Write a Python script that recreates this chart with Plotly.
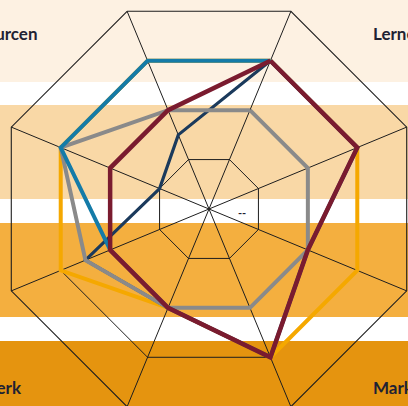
import plotly.graph_objects as go

# ---- data ----
categories = ["Lernen 1", "Lernen 2", "Markt 1", "Markt 2",
              "Netzwerk 1", "Netzwerk 2", "Ressourcen 1", "Ressourcen 2"]
series_yellow = [3, 3, 3, 3, 2, 3, 3, 3]
series_navy = [3, 3, 2, 3, 2, 2.5, 1, 1.5]
series_gray = [2, 2, 2, 2, 2, 2.5, 3, 2]
series_blue = [3, 3, 2, 3, 2, 2, 3, 3]
series_maroon = [3, 3, 2, 3, 2, 2, 2, 2]
ring_ticks = [1, 2, 3, 4]
quadrant_labels = ["Ressourcen", "Lernen", "Netzwerk", "Markt"]

# figure is a little larger than the window and shifted so the chart can bleed off the edges
OFF = 6
W, H = 430, 430


def px(x):
    return (x + OFF) / W


def py(y):
    return 1 - (y + OFF) / H


fig = go.Figure()


def add_series(vals, color, width):
    fig.add_trace(go.Scatterpolar(
        r=vals + [vals[0]], theta=categories + [categories[0]],
        mode="lines", line=dict(color=color, width=width),
        showlegend=False))


add_series(series_yellow, "#f5a800", 4)
add_series(series_navy, "#1b3a5c", 3.2)
add_series(series_gray, "#8a8a8a", 4)
add_series(series_blue, "#147ba8", 4)
add_series(series_maroon, "#7a1b2f", 4.5)

# background bands (page pixel rows)
bands = [(0, 82, "#fdf1e2"), (105, 199, "#f9d8a6"),
         (223, 317, "#f4af3f"), (341, 420, "#e5940f")]
shapes = []
for y0, y1, col in bands:
    shapes.append(dict(type="rect", xref="paper", yref="paper",
                       x0=0, x1=1, y0=py(y1), y1=py(y0),
                       fillcolor=col, line=dict(width=0), layer="below"))

lab_font = dict(family="Lato", size=17, color="#1f2233", weight=700)
annotations = [
    dict(text=quadrant_labels[0], x=px(40), y=py(34), xanchor="right", yanchor="middle"),
    dict(text=quadrant_labels[1], x=px(371), y=py(34), xanchor="left", yanchor="middle"),
    dict(text=quadrant_labels[2], x=px(24), y=py(387), xanchor="right", yanchor="middle"),
    dict(text=quadrant_labels[3], x=px(371), y=py(387), xanchor="left", yanchor="middle"),
]
for a in annotations:
    a.update(xref="paper", yref="paper", showarrow=False, font=lab_font)
annotations.append(dict(text="--", x=px(242), y=py(212), xref="paper", yref="paper",
                        showarrow=False,
                        font=dict(family="Lato", size=11, color="#1f2233", weight=700)))

cx, cy, R = 209 + OFF, 209 + OFF, 214
grid_col = "#1e1e1e"
fig.update_layout(
    width=W, height=H, margin=dict(l=0, r=0, t=0, b=0),
    paper_bgcolor="white", plot_bgcolor="rgba(0,0,0,0)",
    shapes=shapes, annotations=annotations, showlegend=False,
    polar=dict(
        domain=dict(x=[(cx - R) / W, (cx + R) / W],
                    y=[(H - cy - R) / H, (H - cy + R) / H]),
        bgcolor="rgba(0,0,0,0)", gridshape="linear",
        radialaxis=dict(range=[0, ring_ticks[-1]], tickvals=ring_ticks,
                        showgrid=True, gridcolor=grid_col, gridwidth=1.1,
                        showline=False, showticklabels=False, ticks="",
                        layer="below traces"),
        angularaxis=dict(type="category", categoryarray=categories,
                         rotation=67.5, direction="clockwise",
                         showgrid=True, gridcolor=grid_col, gridwidth=1.1,
                         showline=True, linecolor=grid_col, linewidth=1.1,
                         showticklabels=False, ticks="",
                         layer="below traces"),
    ),
)

post = (
    "document.documentElement.style.overflow='hidden';"
    "document.body.style.margin='0';document.body.style.overflow='hidden';"
    "var d=document.querySelector('.plotly-graph-div');"
    "d.style.position='relative';d.style.left='-%dpx';d.style.top='-%dpx';" % (OFF, OFF)
)
fig.write_html("out.html", post_script=post, config={"displayModeBar": False})
